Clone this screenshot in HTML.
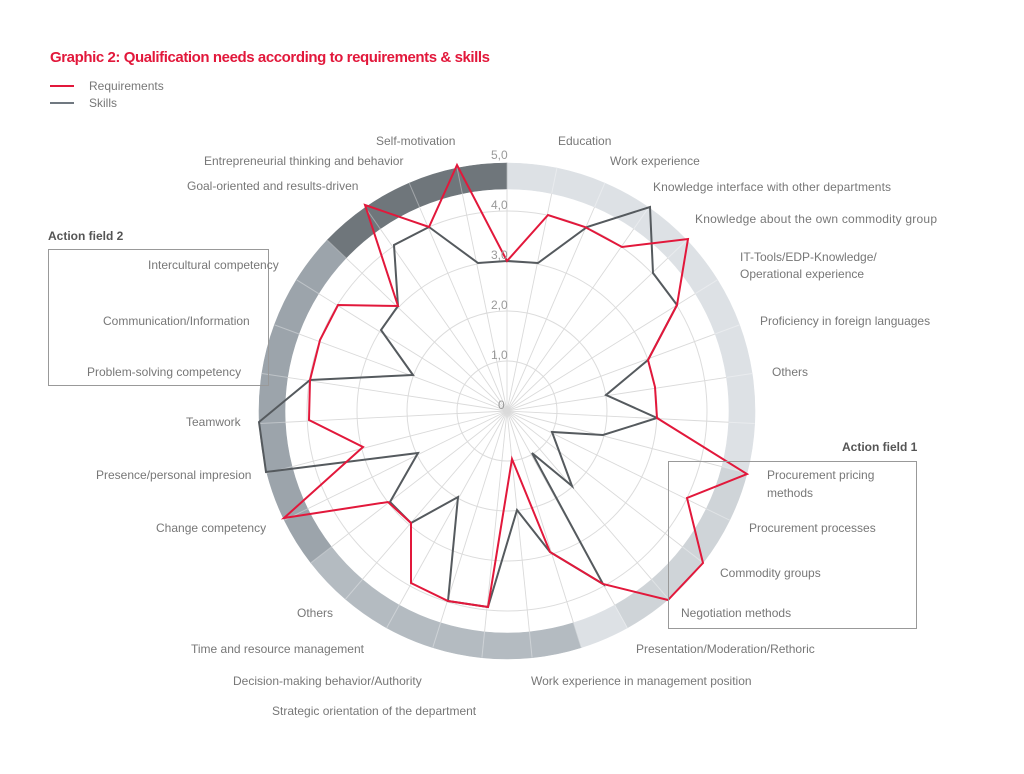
<!DOCTYPE html>
<html><head><meta charset="utf-8"><style>
html,body{margin:0;padding:0;background:#fff;}
svg{display:block;font-family:"Liberation Sans",sans-serif;}
.l{font-size:12px;fill:#777;}
.v{font-size:12px;fill:#999;}
</style></head><body>
<svg id="s" width="1024" height="774" viewBox="0 0 1024 774" xmlns="http://www.w3.org/2000/svg">
<g id="band"></g>
<g id="grid" stroke="#dcdcdc" stroke-width="1" fill="none">
<circle cx="507" cy="411" r="50"/><circle cx="507" cy="411" r="100"/><circle cx="507" cy="411" r="150"/><circle cx="507" cy="411" r="200"/>
</g>
<g id="spokes" stroke="#dadada" stroke-width="0.9"></g>
<polygon fill="none" stroke="#555a5e" stroke-width="2" stroke-linejoin="miter" points="507,261 538,263 587,227 650,207 653,273 677,305 648,360 606,395 657,418 603,435 552,432 572,486 532,453 603,584 550,552 517,510 488,607 448,601 458,497 411,523 390,502 418,453 266,472 259,422 310,380 413,375 381,330 398,306 394,245 429,227 478,263"/>
<polygon fill="none" stroke="#e2183b" stroke-width="2" stroke-linejoin="miter" points="507,261 548,215 585,227 622,247 688,239 677,305 648,360 655,387 657,418 747,474 687,498 703,563 668,600 603,584 550,552 512,459 488,607 448,601 411,583 411,523 388,502 284,518 363,447 309,420 310,380 320,340 338,305 398,306 365,205 429,227 457,165"/>
<g>
<text class="v" x="491" y="159">5,0</text>
<text class="v" x="491" y="209">4,0</text>
<text class="v" x="491" y="259">3,0</text>
<text class="v" x="491" y="309">2,0</text>
<text class="v" x="491" y="359">1,0</text>
<text class="v" x="498" y="409">0</text>
</g>
<text x="50" y="62" font-size="15" font-weight="bold" fill="#e2183b" textLength="440">Graphic 2: Qualification needs according to requirements &amp; skills</text>
<line x1="50" y1="86" x2="74" y2="86" stroke="#e2183b" stroke-width="2"/>
<line x1="50" y1="103" x2="74" y2="103" stroke="#707880" stroke-width="2"/>
<text class="l" x="89" y="90">Requirements</text>
<text class="l" x="89" y="107">Skills</text>
<rect x="48.5" y="249.5" width="220" height="136" fill="none" stroke="#999" stroke-width="1"/>
<rect x="668.5" y="461.5" width="248" height="167" fill="none" stroke="#999" stroke-width="1"/>
<text x="48" y="240" font-size="12" font-weight="bold" fill="#555">Action field 2</text>
<text x="842" y="451" font-size="12" font-weight="bold" fill="#555">Action field 1</text>
<g class="l">
<text class="l" x="376" y="145">Self-motivation</text>
<text class="l" x="558" y="145">Education</text>
<text class="l" x="204" y="165">Entrepreneurial thinking and behavior</text>
<text class="l" x="610" y="165">Work experience</text>
<text class="l" x="187" y="190">Goal-oriented and results-driven</text>
<text class="l" x="653" y="191" textLength="238">Knowledge interface with other departments</text>
<text class="l" x="695" y="223" textLength="242">Knowledge about the own commodity group</text>
<text class="l" x="148" y="269">Intercultural competency</text>
<text class="l" x="740" y="261">IT-Tools/EDP-Knowledge/</text>
<text class="l" x="740" y="278">Operational experience</text>
<text class="l" x="103" y="325">Communication/Information</text>
<text class="l" x="760" y="325">Proficiency in foreign languages</text>
<text class="l" x="87" y="376">Problem-solving competency</text>
<text class="l" x="772" y="376">Others</text>
<text class="l" x="186" y="426">Teamwork</text>
<text class="l" x="767" y="479">Procurement pricing</text>
<text class="l" x="767" y="497">methods</text>
<text class="l" x="96" y="479">Presence/personal impresion</text>
<text class="l" x="749" y="532">Procurement processes</text>
<text class="l" x="156" y="532">Change competency</text>
<text class="l" x="720" y="577">Commodity groups</text>
<text class="l" x="297" y="617">Others</text>
<text class="l" x="681" y="617">Negotiation methods</text>
<text class="l" x="191" y="653">Time and resource management</text>
<text class="l" x="636" y="653">Presentation/Moderation/Rethoric</text>
<text class="l" x="233" y="685">Decision-making behavior/Authority</text>
<text class="l" x="531" y="685">Work experience in management position</text>
<text class="l" x="272" y="715">Strategic orientation of the department</text>
</g>
</svg>
<script>
(function(){
var NS="http://www.w3.org/2000/svg",cx=507,cy=411,N=31,r1=222,r2=248;
function pt(a,r){var t=a*Math.PI/180;return [cx+r*Math.sin(t),cy-r*Math.cos(t)];}
var step=360/N;
var band=document.getElementById('band');
function col(k){
 if(k>=27) return '#6f767b';
 if(k>=20) return '#9ca4ab';
 if(k>=14) return '#b4bbc1';
 if(k>=9 && k<13) return '#cfd4d8';
 return '#dde1e5';
}
for(var k=0;k<N;k++){
 var a0=k*step,a1=(k+1)*step;
 var p0=pt(a0,r2),p1=pt(a1,r2),p2=pt(a1,r1),p3=pt(a0,r1);
 var p=document.createElementNS(NS,'path');
 p.setAttribute('d','M'+p0+' A'+r2+' '+r2+' 0 0 1 '+p1+' L'+p2+' A'+r1+' '+r1+' 0 0 0 '+p3+' Z');
 p.setAttribute('fill',col(k));p.setAttribute('stroke',col(k));p.setAttribute('stroke-width','0.6');
 band.appendChild(p);
}
var sp=document.getElementById('spokes');
for(var k=0;k<N;k++){
 var e=pt(k*step,222);
 var l=document.createElementNS(NS,'line');
 l.setAttribute('x1',cx);l.setAttribute('y1',cy);l.setAttribute('x2',e[0]);l.setAttribute('y2',e[1]);
 sp.appendChild(l);
 var b0=pt(k*step,r1),b1=pt(k*step,r2);
 var w=document.createElementNS(NS,'line');
 w.setAttribute('x1',b0[0]);w.setAttribute('y1',b0[1]);w.setAttribute('x2',b1[0]);w.setAttribute('y2',b1[1]);
 w.setAttribute('stroke','#ffffff');w.setAttribute('stroke-opacity','0.35');
 band.appendChild(w);
}
})();
</script>
</body></html>
